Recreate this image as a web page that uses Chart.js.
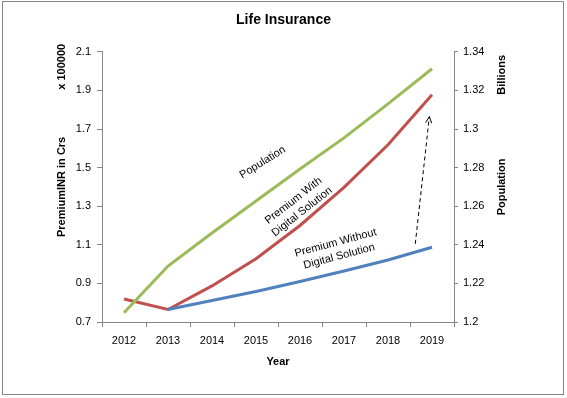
<!DOCTYPE html>
<html>
<head>
<meta charset="utf-8">
<script src="https://cdn.jsdelivr.net/npm/chart.js@4.4.1/dist/chart.umd.min.js"></script>
<style>
  html, body { margin: 0; padding: 0; background: #fff; }
  #wrap { width: 567px; height: 398px; position: relative; }
</style>
</head>
<body>
<div id="wrap"><canvas id="lifeChart" width="567" height="398"></canvas></div>
<script>
// Datos
const years = ["2012", "2013", "2014", "2015", "2016", "2017", "2018", "2019"];
const premiumWith = [0.819, 0.765, 0.887, 1.028, 1.200, 1.398, 1.618, 1.877];
const premiumWithout = [null, 0.765, 0.811, 0.858, 0.910, 0.964, 1.021, 1.087];
const population = [1.2048, 1.2290, 1.2461, 1.2627, 1.2793, 1.2954, 1.3130, 1.3312];

const leftTicks = { min: 0.7, max: 2.1, step: 0.2 };
const rightTicks = { min: 1.2, max: 1.34, step: 0.02 };

// Etiquetas dentro del grafico (posicion en indice de categoria y valor del eje izquierdo)
const notes = [
  { lines: ["Population"], x: 3.15, y: 1.527, angle: -32 },
  { lines: ["Premium With", "Digital Solution"], x: 3.95, y: 1.300, angle: -38 },
  { lines: ["Premium Without", "Digital Solution"], x: 4.85, y: 1.075, angle: -15 }
];
const arrowFrom = { x: 6.62, y: 1.105 };
const arrowTo = { x: 6.94, y: 1.764 };

const FONT = "'Liberation Sans', Arial, sans-serif";
const AXIS_GREY = "#868686";

const extrasPlugin = {
  id: "extras",
  beforeDraw(chart) {
    const ctx = chart.ctx;
    ctx.save();
    ctx.fillStyle = "#fff";
    ctx.fillRect(0, 0, chart.width, chart.height);
    ctx.restore();
  },
  afterDraw(chart) {
    const ctx = chart.ctx;
    const xs = chart.scales.x;
    const ys = chart.scales.y;
    const area = chart.chartArea;
    ctx.save();

    // borde exterior
    ctx.strokeStyle = AXIS_GREY;
    ctx.lineWidth = 1;
    ctx.strokeRect(2.5, 1.5, 561, 393);

    // titulos de ejes extra (leen de abajo hacia arriba)
    ctx.fillStyle = "#000";
    ctx.font = "bold 11px " + FONT;
    ctx.textAlign = "center";
    ctx.textBaseline = "middle";
    function vText(txt, x, y) {
      ctx.save();
      ctx.translate(x, y);
      ctx.rotate(-Math.PI / 2);
      ctx.fillText(txt, 0, 0);
      ctx.restore();
    }
    vText("x 100000", 62, area.top + 15);
    vText("Billions", 502, area.top + 23);
    vText("Population", 502, (area.top + area.bottom) / 2);

    // notas en el grafico
    ctx.font = "11px " + FONT;
    notes.forEach(n => {
      const px = xs.getPixelForValue(n.x);
      const py = ys.getPixelForValue(n.y);
      ctx.save();
      ctx.translate(px, py);
      ctx.rotate(n.angle * Math.PI / 180);
      const lh = 14;
      const start = -(n.lines.length - 1) * lh / 2;
      n.lines.forEach((l, i) => ctx.fillText(l, 0, start + i * lh));
      ctx.restore();
    });

    // flecha punteada
    const x1 = xs.getPixelForValue(arrowFrom.x), y1 = ys.getPixelForValue(arrowFrom.y);
    const x2 = xs.getPixelForValue(arrowTo.x), y2 = ys.getPixelForValue(arrowTo.y);
    ctx.strokeStyle = "#000";
    ctx.lineWidth = 1;
    ctx.setLineDash([4, 3]);
    ctx.beginPath();
    ctx.moveTo(x1, y1);
    ctx.lineTo(x2, y2);
    ctx.stroke();
    ctx.setLineDash([]);
    const ang = Math.atan2(y2 - y1, x2 - x1);
    const head = 7;
    ctx.beginPath();
    ctx.moveTo(x2 - head * Math.cos(ang - 0.45), y2 - head * Math.sin(ang - 0.45));
    ctx.lineTo(x2, y2);
    ctx.lineTo(x2 - head * Math.cos(ang + 0.45), y2 - head * Math.sin(ang + 0.45));
    ctx.stroke();

    ctx.restore();
  }
};

function fmt(v) {
  return String(Number(v.toFixed(2)));
}

const ctx = document.getElementById("lifeChart").getContext("2d");
new Chart(ctx, {
  type: "line",
  data: {
    labels: years,
    datasets: [
      {
        label: "Population",
        data: population,
        yAxisID: "y2",
        borderColor: "#9BBB59",
        borderWidth: 3,
        pointRadius: 0,
        tension: 0
      },
      {
        label: "Premium Without Digital Solution",
        data: premiumWithout,
        yAxisID: "y",
        borderColor: "#4F81BD",
        borderWidth: 3,
        pointRadius: 0,
        tension: 0
      },
      {
        label: "Premium With Digital Solution",
        data: premiumWith,
        yAxisID: "y",
        borderColor: "#C0504D",
        borderWidth: 3,
        pointRadius: 0,
        tension: 0
      }
    ]
  },
  options: {
    responsive: false,
    animation: false,
    layout: { padding: 0 },
    plugins: {
      legend: { display: false },
      tooltip: { enabled: false },
      title: {
        display: true,
        text: "Life Insurance",
        color: "#000",
        font: { family: FONT, size: 14, weight: "bold" },
        padding: { top: 12, bottom: 23 }
      }
    },
    scales: {
      x: {
        type: "category",
        offset: true,
        grid: { offset: true, drawOnChartArea: false, drawTicks: true, tickLength: 5, color: AXIS_GREY },
        border: { color: AXIS_GREY },
        ticks: { color: "#000", font: { family: FONT, size: 11 }, padding: 7, maxRotation: 0 },
        title: {
          display: true,
          text: "Year",
          color: "#000",
          font: { family: FONT, size: 11, weight: "bold" },
          padding: { top: 0, bottom: 29 }
        },
        afterFit(s) { s.height = 76; }
      },
      y: {
        position: "left",
        min: leftTicks.min,
        max: leftTicks.max,
        grid: { drawOnChartArea: false, drawTicks: true, tickLength: 5, color: AXIS_GREY },
        border: { color: AXIS_GREY },
        ticks: { stepSize: leftTicks.step, color: "#000", font: { family: FONT, size: 11 }, padding: 6, callback: v => fmt(v) },
        title: {
          display: true,
          text: "PremiumINR in Crs",
          color: "#000",
          font: { family: FONT, size: 11, weight: "bold" },
          padding: { top: 55, bottom: 0 }
        },
        afterFit(s) { s.width = 102; }
      },
      y2: {
        position: "right",
        min: rightTicks.min,
        max: rightTicks.max,
        grid: { drawOnChartArea: false, drawTicks: true, tickLength: 4, color: AXIS_GREY },
        border: { color: AXIS_GREY },
        ticks: { stepSize: rightTicks.step, color: "#000", font: { family: FONT, size: 11 }, padding: 5, callback: v => fmt(v) },
        afterFit(s) { s.width = 113; }
      }
    }
  },
  plugins: [extrasPlugin]
});
</script>
</body>
</html>
